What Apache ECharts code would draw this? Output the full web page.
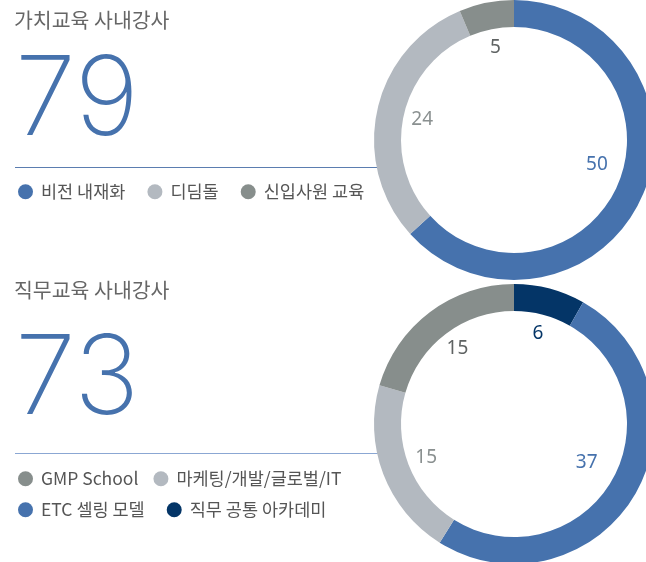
<!DOCTYPE html>
<html>
<head>
<meta charset="utf-8">
<script src="https://cdn.jsdelivr.net/npm/echarts@6/dist/echarts.min.js"></script>
<style>
  html, body { margin: 0; padding: 0; background: #fff; }
  #chart { width: 646px; height: 562px; }
</style>
</head>
<body>
<div id="chart"></div>
<script>
// 가치교육 사내강사
const valueNames = ['비전 내재화', '디딤돌', '신입사원 교육'];
const valueCounts = [50, 24, 5];
const valueColors = ['#4672ad', '#b3b9c0', '#878e8c'];
const valueLabelColors = ['#4672ad', '#8a9090', '#5f6363'];
const valueTotal = '79';

// 직무교육 사내강사
const jobNames = ['직무 공통 아카데미', 'ETC 셀링 모델', '마케팅/개발/글로벌/IT', 'GMP School'];
const jobCounts = [6, 37, 15, 15];
const jobColors = ['#043567', '#4672ad', '#b3b9c0', '#878e8c'];
const jobLabelColors = ['#043567', '#4672ad', '#8a9090', '#5f6363'];
const jobTotal = '73';

const krFont = '"Noto Sans CJK KR", "Noto Sans", sans-serif';
const numFont = '"Noto Sans", "Open Sans", sans-serif';

// small nudges for the labels of the largest slices
const labelNudge = { '비전 내재화': [-3, -14], 'ETC 셀링 모델': [-8, -10] };

function ringData(names, counts, colors) {
  return names.map((n, i) => ({ name: n, value: counts[i], itemStyle: { color: colors[i] } }));
}
function labelData(names, counts, labelColors) {
  return names.map((n, i) => ({
    name: n, value: counts[i],
    itemStyle: { color: 'rgba(0,0,0,0)' },
    label: { color: labelColors[i], offset: labelNudge[n] || [0, 0] }
  }));
}

function ring(center, names, counts, colors) {
  return {
    type: 'pie', center: center, radius: [113, 140],
    startAngle: 90, clockwise: true, silent: true,
    label: { show: false }, labelLine: { show: false },
    data: ringData(names, counts, colors)
  };
}
// transparent ring used only to place the value labels inside the hole
function ringLabels(center, names, counts, labelColors) {
  return {
    type: 'pie', center: center, radius: [62, 120],
    startAngle: 90, clockwise: true, silent: true,
    label: { show: true, position: 'inner', formatter: '{c}', fontFamily: numFont, fontSize: 19 },
    labelLine: { show: false },
    data: labelData(names, counts, labelColors)
  };
}

const legendText = { fontFamily: krFont, fontSize: 17.5, color: '#555', padding: [0, 0, 0, 3] };
function legend(left, top, items, gap) {
  return {
    left: left, top: top, orient: 'horizontal', icon: 'circle', padding: 0,
    itemWidth: 15, itemHeight: 15, itemGap: gap, selectedMode: false,
    textStyle: legendText, data: items
  };
}

const titleText = { fontFamily: krFont, fontSize: 20.5, fontWeight: 'normal', color: '#666' };
const bigText = { fontFamily: 'Inter', fontSize: 110, fontWeight: 200, color: '#4672ad' };

const chart = echarts.init(document.getElementById('chart'), null, { renderer: 'canvas' });
chart.setOption({
  animation: false,
  backgroundColor: '#fff',
  title: [
    { text: '가치교육 사내강사', left: 14, top: 10, padding: 0, textStyle: titleText },
    { text: valueTotal, left: 15, top: 47, padding: 0, textStyle: bigText },
    { text: '직무교육 사내강사', left: 14, top: 280, padding: 0, textStyle: titleText },
    { text: jobTotal, left: 15, top: 326, padding: 0, textStyle: bigText }
  ],
  legend: [
    legend(18, 183, valueNames, 22),
    legend(18, 470, ['GMP School', '마케팅/개발/글로벌/IT'], 15),
    legend(18, 501, ['ETC 셀링 모델', '직무 공통 아카데미'], 22)
  ],
  graphic: [
    { type: 'line', shape: { x1: 15, y1: 167.5, x2: 380, y2: 167.5 }, style: { stroke: '#5b7db0', lineWidth: 1 }, z: -1 },
    { type: 'line', shape: { x1: 15, y1: 453.5, x2: 380, y2: 453.5 }, style: { stroke: '#8ba7d3', lineWidth: 1.2 }, z: -1 }
  ],
  series: [
    ring([514, 140], valueNames, valueCounts, valueColors),
    ringLabels([514, 140], valueNames, valueCounts, valueLabelColors),
    ring([514, 424], jobNames, jobCounts, jobColors),
    ringLabels([514, 424], jobNames, jobCounts, jobLabelColors)
  ]
});
</script>
</body>
</html>
